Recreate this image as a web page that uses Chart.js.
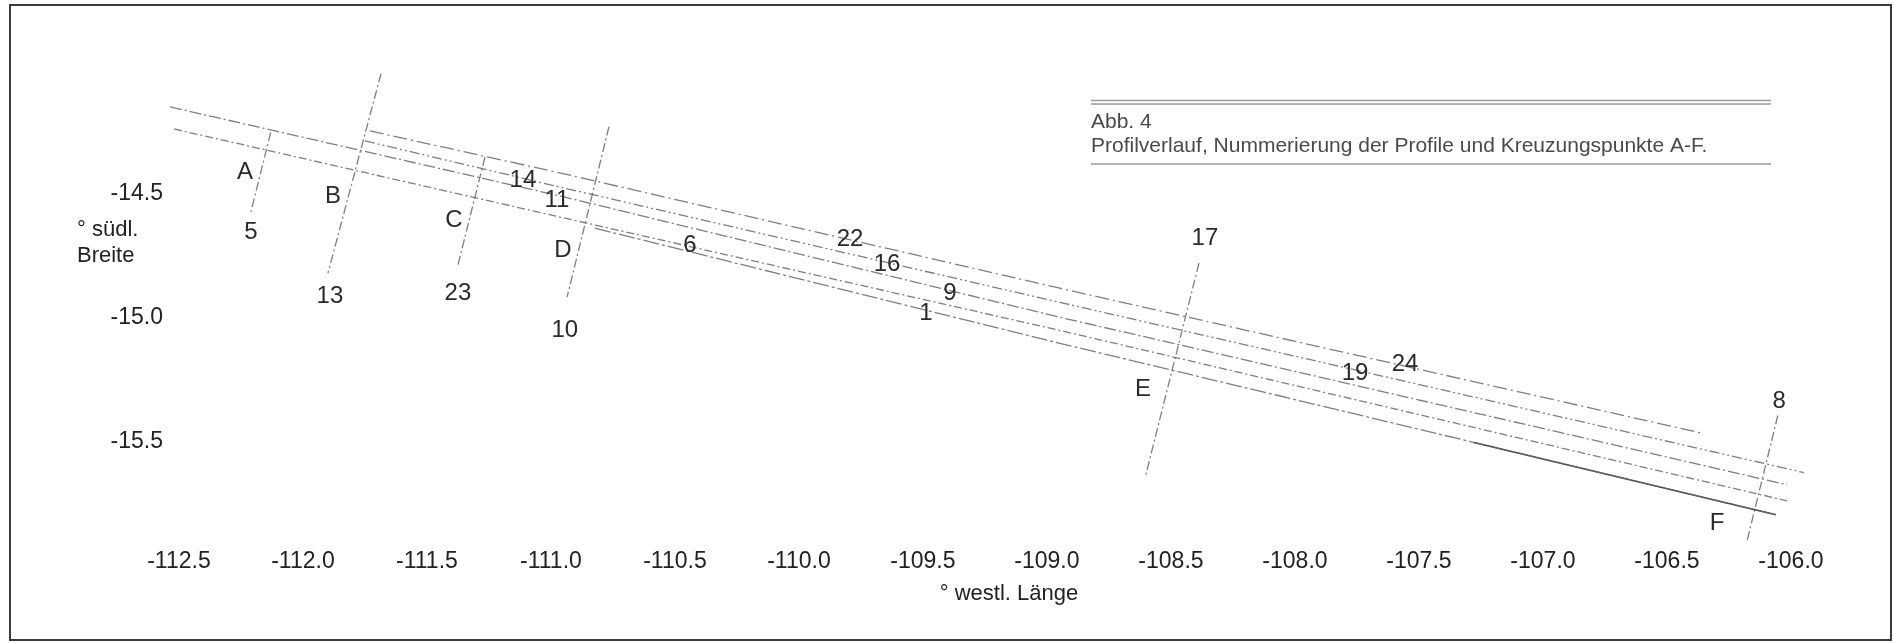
<!DOCTYPE html>
<html>
<head>
<meta charset="utf-8">
<script src="https://cdn.jsdelivr.net/npm/chart.js@4.4.1/dist/chart.umd.min.js"></script>
<style>
html,body{margin:0;padding:0;background:#fff;}
#wrap{position:relative;width:1894px;height:643px;overflow:hidden;}
#c{position:absolute;left:0;top:0;}
#frame{position:absolute;left:9px;top:4px;width:1883px;height:637px;border:2px solid #3a3a3a;box-sizing:border-box;pointer-events:none;}
</style>
</head>
<body>
<div id="wrap"><canvas id="c" width="1894" height="643"></canvas><div id="frame"></div></div>
<script>
// ---- axis ticks ----
const xTicks = [-112.5,-112.0,-111.5,-111.0,-110.5,-110.0,-109.5,-109.0,-108.5,-108.0,-107.5,-107.0,-106.5,-106.0];
const yTicks = [-14.5,-15.0,-15.5];
const xTitle = '° westl. Länge';
const yTitle = ['° südl.', 'Breite'];
const captionLines = ['Abb. 4', 'Profilverlauf, Nummerierung der Profile und Kreuzungspunkte A-F.'];

// ---- parallel profile tracks: [lon, lat] ----
const track1 = [[-111.730,-14.262],[-110.964,-14.431],[-108.948,-14.896],[-106.351,-15.482]];
const track2 = [[-111.750,-14.302],[-110.964,-14.488],[-108.948,-14.953],[-105.948,-15.639]];
const track3 = [[-112.536,-14.165],[-110.964,-14.524],[-108.948,-15.013],[-106.016,-15.688]];
const track4 = [[-112.520,-14.254],[-110.964,-14.609],[-108.948,-15.066],[-106.016,-15.753]];
const track5 = [[-110.823,-14.654],[-108.948,-15.118],[-106.061,-15.809]];
const track5Solid = [[-107.278,-15.518],[-106.061,-15.809]];

// ---- crossing profiles (A-F): [lon, lat] ----
const crossA = [[-112.130,-14.268],[-112.211,-14.594]];
const crossB = [[-111.685,-14.031],[-111.899,-14.835]];
const crossC = [[-111.266,-14.367],[-111.375,-14.803]];
const crossD = [[-110.766,-14.245],[-110.935,-14.932]];
const crossE = [[-108.387,-14.795],[-108.601,-15.647]];
const crossF = [[-106.053,-15.409],[-106.177,-15.914]];

// ---- labels ----
const labelText = ['A','5','B','13','C','23','D','10','E','17','F','8','14','11','6','22','16','9','1','19','24'];
const labelLon  = [-112.234,-112.210,-111.879,-111.891,-111.391,-111.375,-110.952,-110.944,-108.613,-108.363,-106.298,-106.048,-111.113,-110.976,-110.440,-109.794,-109.645,-109.391,-109.488,-107.758,-107.556];
const labelLat  = [-14.427,-14.670,-14.524,-14.928,-14.621,-14.916,-14.742,-15.066,-15.304,-14.694,-15.845,-15.353,-14.460,-14.540,-14.722,-14.698,-14.799,-14.916,-14.997,-15.239,-15.203];

const FONT = '"Liberation Sans", Arial, Helvetica, sans-serif';
const toXY = arr => arr.map(p => ({x: p[0], y: p[1]}));

function lineDs(arr, dash, color, width) {
  return {
    data: toXY(arr), showLine: true, pointRadius: 0, pointHoverRadius: 0,
    borderColor: color, borderWidth: width, borderDash: dash, fill: false, tension: 0, clip: false
  };
}

const trackColor = 'rgba(105,105,105,0.85)';
const datasets = [
  lineDs(track1, [14,4,2,4], trackColor, 1.3),
  lineDs(track2, [10,3,2,3,2,3], trackColor, 1.3),
  lineDs(track3, [12,3,2,3], trackColor, 1.3),
  lineDs(track4, [8,3,2,3], trackColor, 1.3),
  lineDs(track5, [16,3,3,3], trackColor, 1.3),
  lineDs(track5Solid, [], 'rgba(60,60,60,0.95)', 1.6),
  lineDs(crossA, [9,3,2,3], trackColor, 1.3),
  lineDs(crossB, [9,3,2,3], trackColor, 1.3),
  lineDs(crossC, [9,3,2,3], trackColor, 1.3),
  lineDs(crossD, [9,3,2,3], trackColor, 1.3),
  lineDs(crossE, [9,3,2,3], trackColor, 1.3),
  lineDs(crossF, [9,3,2,3], trackColor, 1.3)
];

const annotations = {
  id: 'annotations',
  afterDatasetsDraw(chart) {
    const {ctx, scales: {x, y}} = chart;
    ctx.save();
    // profile / crossing labels
    ctx.fillStyle = '#2a2a2a';
    ctx.font = '24px ' + FONT;
    ctx.textAlign = 'center';
    ctx.textBaseline = 'middle';
    labelText.forEach((t, i) => {
      ctx.fillText(t, x.getPixelForValue(labelLon[i]), y.getPixelForValue(labelLat[i]));
    });
    // y axis title (horizontal, two lines)
    ctx.font = '22px ' + FONT;
    ctx.textAlign = 'left';
    ctx.fillStyle = '#222';
    yTitle.forEach((t, i) => ctx.fillText(t, 77, 230 + 26 * i));
    // caption box
    ctx.strokeStyle = '#9a9a9a';
    ctx.lineWidth = 1.5;
    [100.5, 104].forEach(yy => { ctx.beginPath(); ctx.moveTo(1091, yy); ctx.lineTo(1771, yy); ctx.stroke(); });
    ctx.beginPath(); ctx.moveTo(1091, 164); ctx.lineTo(1771, 164); ctx.stroke();
    ctx.fillStyle = '#4a4a4a';
    ctx.font = '21px ' + FONT;
    captionLines.forEach((t, i) => ctx.fillText(t, 1091, 122 + 24 * i));
    ctx.restore();
  }
};

new Chart(document.getElementById('c'), {
  type: 'scatter',
  data: { datasets },
  options: {
    responsive: false,
    animation: false,
    devicePixelRatio: 1,
    layout: { padding: { left: 68, right: 44, top: 60, bottom: 0 } },
    plugins: { legend: { display: false }, tooltip: { enabled: false } },
    scales: {
      x: {
        type: 'linear', position: 'bottom',
        min: -112.544, max: -105.762,
        afterBuildTicks: s => { s.ticks = xTicks.map(v => ({value: v})); },
        afterFit: s => { s.height = 98; },
        grid: { display: false, drawTicks: false },
        border: { display: false },
        ticks: {
          autoSkip: false, maxRotation: 0, padding: 3,
          color: '#222', font: { family: FONT, size: 23 },
          callback: v => Number(v).toFixed(1)
        },
        title: {
          display: true, text: xTitle, color: '#222',
          font: { family: FONT, size: 22 }, padding: { top: 0, bottom: 36 }
        }
      },
      y: {
        type: 'linear', position: 'left',
        min: -15.931, max: -13.976,
        afterBuildTicks: s => { s.ticks = yTicks.map(v => ({value: v})); },
        afterFit: s => { s.width = 100; },
        grid: { display: false, drawTicks: false },
        border: { display: false },
        ticks: {
          padding: 5, labelOffset: 4, color: '#222', font: { family: FONT, size: 23 },
          callback: v => Number(v).toFixed(1)
        }
      }
    }
  },
  plugins: [annotations]
});
</script>
</body>
</html>
